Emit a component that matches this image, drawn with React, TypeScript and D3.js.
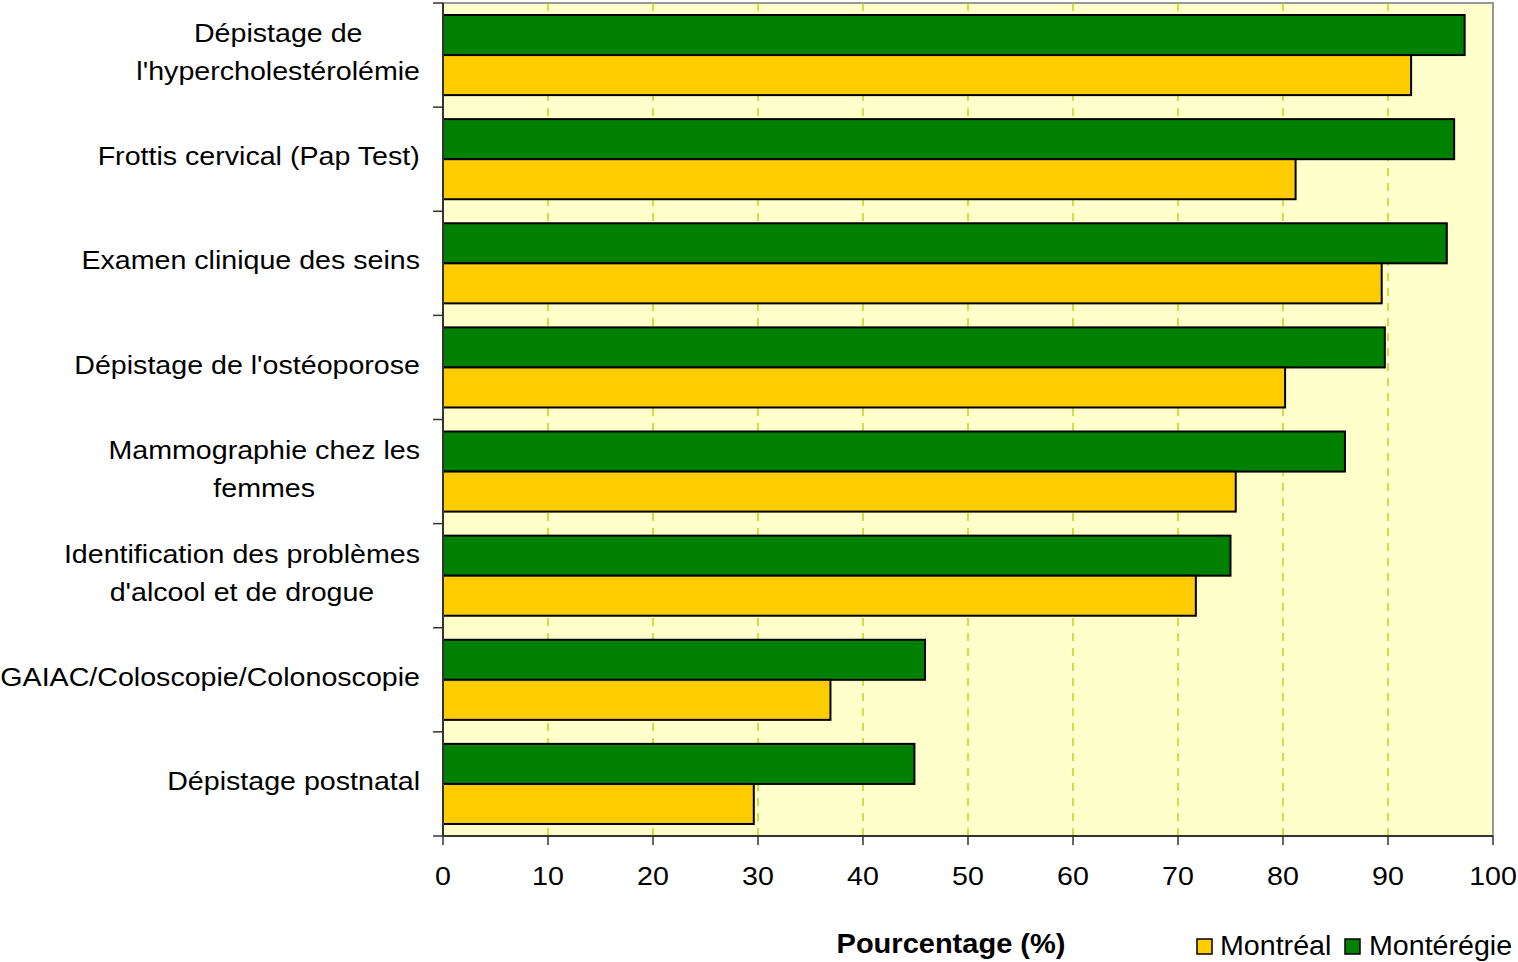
import * as d3 from "d3";

const categories = [
  ["Dépistage de", "l'hypercholestérolémie"],
  ["Frottis cervical (Pap Test)"],
  ["Examen clinique des seins"],
  ["Dépistage de l'ostéoporose"],
  ["Mammographie chez les", "femmes"],
  ["Identification des problèmes", "d'alcool et de drogue"],
  ["GAIAC/Coloscopie/Colonoscopie"],
  ["Dépistage postnatal"],
];
const monteregie = [97.3, 96.3, 95.6, 89.7, 85.9, 75.0, 45.9, 44.9];
const montreal = [92.2, 81.2, 89.4, 80.2, 75.5, 71.7, 36.9, 29.6];
const xTicks = [0, 10, 20, 30, 40, 50, 60, 70, 80, 90, 100];

const W = 1518;
const H = 962;
const plot = { left: 443, right: 1493, top: 3, bottom: 836 };
const font = "'Liberation Sans', Arial, sans-serif";
const SX = 1.1; // text in the source is a bit wider than the font

const ctx = document.createElement("canvas").getContext("2d")!;
ctx.font = `26px ${font}`;
const textW = (s: string) => ctx.measureText(s).width * SX;

export default function App() {
  const x = d3.scaleLinear().domain([0, 100]).range([plot.left, plot.right]);
  const y = d3
    .scaleBand<number>()
    .domain(d3.range(categories.length))
    .range([plot.top, plot.bottom]);
  const inner = d3
    .scaleBand<string>()
    .domain(["monteregie", "montreal"])
    .range([0, y.bandwidth()])
    .paddingOuter(0.3)
    .paddingInner(0);

  return (
    <svg
      width={W}
      height={H}
      style={{ position: "absolute", left: 0, top: 0, fontFamily: font }}
    >
      <rect x={0} y={0} width={W} height={H} fill="#fff" />
      <rect
        x={plot.left}
        y={plot.top}
        width={plot.right - plot.left}
        height={plot.bottom - plot.top}
        fill="#FFFFCC"
        stroke="#999"
        strokeWidth={2}
      />
      {/* gridlines */}
      {xTicks.slice(1, -1).map((t) => (
        <line
          key={t}
          x1={x(t)}
          x2={x(t)}
          y1={plot.top}
          y2={plot.bottom}
          stroke="#A8D400"
          strokeWidth={1.3}
          strokeDasharray="8,7"
        />
      ))}
      {/* bars */}
      {categories.map((_, i) => (
        <g key={i} transform={`translate(0,${y(i)})`}>
          <rect
            x={x(0)}
            y={inner("monteregie")}
            width={x(monteregie[i]) - x(0)}
            height={inner.bandwidth()}
            fill="#008000"
            stroke="#000"
            strokeWidth={2}
          />
          <rect
            x={x(0)}
            y={inner("montreal")}
            width={x(montreal[i]) - x(0)}
            height={inner.bandwidth()}
            fill="#FFCC00"
            stroke="#000"
            strokeWidth={2}
          />
        </g>
      ))}
      {/* y axis */}
      <line x1={plot.left} x2={plot.left} y1={plot.top} y2={plot.bottom} stroke="#333" strokeWidth={2} />
      {d3.range(categories.length + 1).map((i) => {
        const yy = i < categories.length ? y(i)! : plot.bottom;
        return (
          <line key={i} x1={plot.left - 10} x2={plot.left} y1={yy} y2={yy} stroke="#333" strokeWidth={1.5} />
        );
      })}
      {categories.map((lines, i) => {
        const cy = y(i)! + y.bandwidth() / 2 - 3;
        const lh = 38;
        const maxW = d3.max(lines, textW)!;
        const cx = 420 - maxW / 2;
        return lines.map((l, j) => (
          <g
            key={`${i}-${j}`}
            transform={`translate(${cx},${cy + (j - (lines.length - 1) / 2) * lh}) scale(${SX},1)`}
          >
            <text fontSize={26} fill="#000" textAnchor="middle" dy="0.35em">
              {l}
            </text>
          </g>
        ));
      })}
      {/* x axis */}
      <line x1={plot.left} x2={plot.right} y1={plot.bottom} y2={plot.bottom} stroke="#333" strokeWidth={2} />
      {xTicks.map((t) => (
        <g key={t}>
          <line x1={x(t)} x2={x(t)} y1={plot.bottom} y2={plot.bottom + 9} stroke="#333" strokeWidth={1.5} />
          <g transform={`translate(${x(t)},${plot.bottom + 49}) scale(${SX},1)`}>
            <text fontSize={26} textAnchor="middle" fill="#000">
              {t}
            </text>
          </g>
        </g>
      ))}
      <g transform={`translate(951,953) scale(1.075,1)`}>
        <text fontSize={27} fontWeight="bold" textAnchor="middle" fill="#000">
          Pourcentage (%)
        </text>
      </g>
      {/* legend */}
      <rect x={1197} y={939} width={15} height={15} fill="#FFCC00" stroke="#000" strokeWidth={1.5} />
      <g transform="translate(1220,955) scale(1.06,1)">
        <text fontSize={27} fill="#000">Montréal</text>
      </g>
      <rect x={1345} y={939} width={15} height={15} fill="#008000" stroke="#000" strokeWidth={1.5} />
      <g transform="translate(1369,955) scale(1.06,1)">
        <text fontSize={27} fill="#000">Montérégie</text>
      </g>
    </svg>
  );
}
